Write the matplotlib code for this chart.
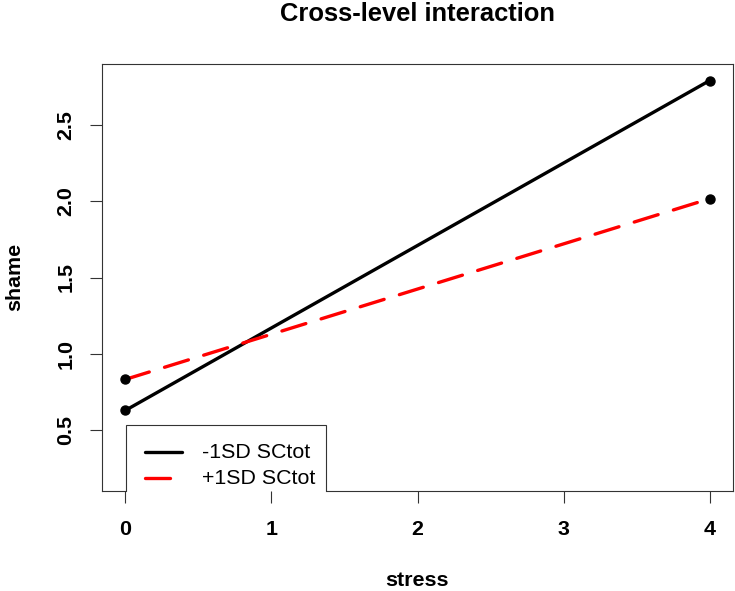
import matplotlib
matplotlib.use("Agg")
import matplotlib.pyplot as plt
from matplotlib.patches import Rectangle

plt.rcParams['font.family'] = ['Liberation Sans', 'DejaVu Sans']
plt.rcParams['lines.scale_dashes'] = False

# data
stress = [0, 4]
low_sc = [0.626, 2.795]    # -1SD SCtot
high_sc = [0.830, 2.018]   # +1SD SCtot
xticks = [0, 1, 2, 3, 4]
yticks = [0.5, 1.0, 1.5, 2.0, 2.5]
series_labels = ['-1SD SCtot', '+1SD SCtot']
title = 'Cross-level interaction'
xlabel = 'stress'
ylabel = 'shame'

W, H = 735, 591
fig = plt.figure(figsize=(W / 100, H / 100), dpi=100)
ax = fig.add_axes([102 / W, (H - 491) / H, (733 - 102) / W, (491 - 64) / H])

base = 15.4
lw = 2.4
dash = (18, 11.5)

ax.plot(stress, low_sc, color='black', lw=lw, solid_capstyle='round', zorder=3)
ax.plot(stress, high_sc, color='red', lw=lw, dashes=dash,
        dash_capstyle='round', zorder=4)
ax.plot(stress, low_sc, 'o', color='black', ms=6.5, zorder=5)
ax.plot(stress, high_sc, 'o', color='black', ms=6.5, zorder=5)

ax.set_xlim(-0.16, 4.16)
ax.set_ylim(0.096, 2.904)
ax.set_xticks(xticks)
ax.set_xticklabels([str(t) for t in xticks], fontsize=base, fontweight='bold')
ax.set_yticks(yticks)
ax.set_yticklabels([f'{t:.1f}' for t in yticks], fontsize=base,
                   fontweight='bold', rotation=90, va='center')
ax.tick_params(axis='both', length=8.6, width=0.8, color='#333333')
ax.tick_params(axis='x', pad=12.5)
ax.tick_params(axis='y', pad=10.5)

for s in ['left', 'right', 'top']:
    ax.spines[s].set_linewidth(0.8)
    ax.spines[s].set_color('#333333')
ax.spines['bottom'].set_visible(False)

# legend box (clipped at plot region like R)
lx0, lx1, ly1 = 0.038, 0.355, 0.1546
ax.add_patch(Rectangle((lx0, -0.2), lx1 - lx0, ly1 + 0.2, transform=ax.transAxes,
                       facecolor='white', edgecolor='#333333', lw=0.8,
                       clip_on=True, zorder=6))
# bottom frame segments outside legend
ax.plot([0, lx0], [0, 0], transform=ax.transAxes, color='#333333', lw=0.8,
        clip_on=False, zorder=7)
ax.plot([lx1, 1], [0, 0], transform=ax.transAxes, color='#333333', lw=0.8,
        clip_on=False, zorder=7)

rows = [0.0913, 0.0304]
sx = [0.0675, 0.1275]
ax.plot(sx, [rows[0]] * 2, transform=ax.transAxes, color='black',
        lw=lw, solid_capstyle='round', zorder=7)
ax.plot(sx, [rows[1]] * 2, transform=ax.transAxes, color='red',
        lw=lw, dashes=dash, dash_capstyle='round', zorder=7)
for r, lab in zip(rows, series_labels):
    ax.text(0.1585, r, lab, transform=ax.transAxes, fontsize=base,
            va='center', ha='left', zorder=8)

fig.text(417 / W, 1 - 14 / H, title, fontsize=18.4, fontweight='bold',
         ha='center', va='center')
fig.text(417 / W, 1 - 580 / H, xlabel, fontsize=base, fontweight='bold',
         ha='center', va='center')
fig.text(15 / W, 1 - 277 / H, ylabel, fontsize=base, fontweight='bold',
         ha='center', va='center', rotation=90)

fig.savefig('out.png', dpi=100)
